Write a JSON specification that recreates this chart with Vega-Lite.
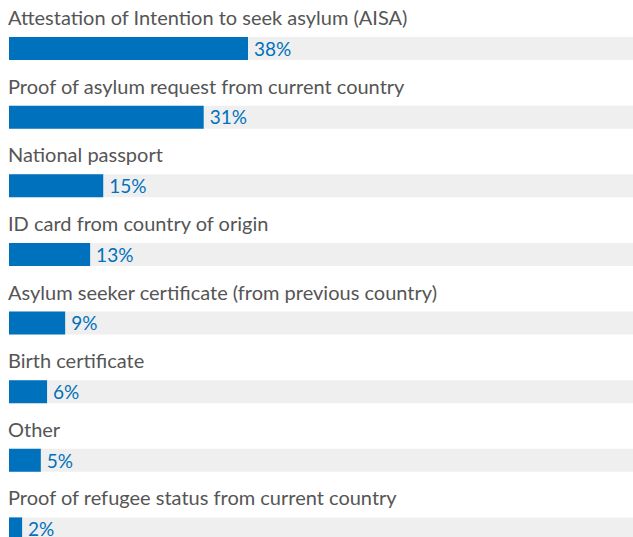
{
  "$schema": "https://vega.github.io/schema/vega-lite/v6.json",
  "width": 633,
  "height": 537,
  "padding": 0,
  "autosize": "none",
  "background": "white",
  "config": {"view": {"stroke": null}},
  "data": {"values": [
    {"category": "Attestation of Intention to seek asylum (AISA)", "value": 38.3, "label": "38%", "full": 100},
    {"category": "Proof of asylum request from current country", "value": 31.2, "label": "31%", "full": 100},
    {"category": "National passport", "value": 15.1, "label": "15%", "full": 100},
    {"category": "ID card from country of origin", "value": 13.0, "label": "13%", "full": 100},
    {"category": "Asylum seeker certificate (from previous country)", "value": 9.0, "label": "9%", "full": 100},
    {"category": "Birth certificate", "value": 6.1, "label": "6%", "full": 100},
    {"category": "Other", "value": 5.1, "label": "5%", "full": 100},
    {"category": "Proof of refugee status from current country", "value": 2.1, "label": "2%", "full": 100}
  ]},
  "encoding": {
    "y": {"field": "category", "type": "nominal", "sort": null, "axis": null,
          "scale": {"type": "band", "paddingInner": 0, "paddingOuter": 0, "range": [0, 549]}}
  },
  "layer": [
    {"mark": {"type": "bar", "height": 23, "yOffset": 14.2, "color": "#efefef"},
     "encoding": {"x": {"field": "full", "type": "quantitative", "axis": null, "scale": {"domain": [0, 100], "range": [9, 633]}}}},
    {"mark": {"type": "bar", "height": 23, "yOffset": 14.2, "color": "#0071bc"},
     "encoding": {"x": {"field": "value", "type": "quantitative"}}},
    {"mark": {"type": "text", "align": "left", "baseline": "middle", "dx": 6, "dy": 15.5, "font": "Lato", "fontSize": 19, "color": "#0071bc"},
     "encoding": {"x": {"field": "value", "type": "quantitative"}, "text": {"field": "label"}}},
    {"mark": {"type": "text", "align": "left", "baseline": "middle", "x": 8, "dy": -15.3, "font": "Lato", "fontSize": 20, "color": "#555555"},
     "encoding": {"text": {"field": "category"}}}
  ]
}
